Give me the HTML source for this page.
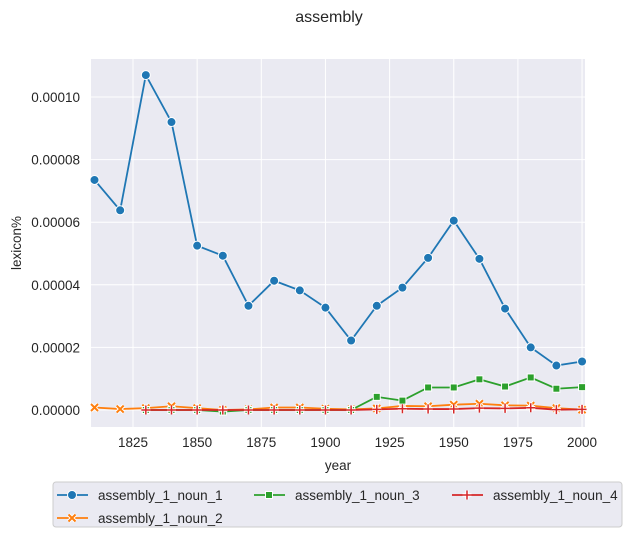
<!DOCTYPE html>
<html><head><meta charset="utf-8"><style>
body{margin:0;background:#fff;font-family:"Liberation Sans","DejaVu Sans",sans-serif;}
</style></head><body>
<svg id="chart" width="631" height="537" xmlns="http://www.w3.org/2000/svg" font-family="Liberation Sans, DejaVu Sans, sans-serif">
<text x="329" y="22" text-anchor="middle" font-size="16" fill="#262626">assembly</text>
<rect x="91" y="59" width="494" height="368" fill="#eaeaf2"/>
<g id="grid"></g><g id="ticks"></g><g id="series"></g>
<text x="338" y="470" text-anchor="middle" font-size="13.5" fill="#262626">year</text>
<text transform="translate(21,243) rotate(-90)" text-anchor="middle" font-size="13.5" fill="#262626">lexicon%</text>
<g>
<rect x="53" y="482" width="569" height="45" rx="3" fill="#eaeaf2" stroke="#cccccc"/>
<g id="legend"></g></g>
</svg>
<script>
const years=[1810,1820,1830,1840,1850,1860,1870,1880,1890,1900,1910,1920,1930,1940,1950,1960,1970,1980,1990,2000];
const noun1=[7.35,6.38,10.7,9.2,5.25,4.93,3.33,4.13,3.82,3.27,2.22,3.33,3.91,4.86,6.05,4.83,3.24,2.0,1.42,1.55];
const noun2=[0.08,0.03,0.06,0.12,0.06,0.0,0.02,0.08,0.08,0.04,0.02,0.05,0.13,0.12,0.17,0.2,0.15,0.14,0.06,0.01];
const noun3=[null,null,0,0,0,-0.05,0,0,0,0,0,0.42,0.3,0.72,0.72,0.98,0.75,1.04,0.68,0.73];
const noun4=[null,null,0,0,0,0,0,0,0,0,0,0.02,0.04,0.03,0.03,0.06,0.05,0.07,0.01,0.02];
const xTicks=[1825,1850,1875,1900,1925,1950,1975,2000];
const yTicks=[0,2,4,6,8,10];
const yTickLabels=["0.00000","0.00002","0.00004","0.00006","0.00008","0.00010"];
const names=["assembly_1_noun_1","assembly_1_noun_2","assembly_1_noun_3","assembly_1_noun_4"];
const NS="http://www.w3.org/2000/svg";
const X=v=>133+(v-1825)*2.566;
const Y=v=>410-v*31.3;
function mk(t,a,p){const e=document.createElementNS(NS,t);for(const k in a)e.setAttribute(k,a[k]);p.appendChild(e);return e;}
const grid=document.getElementById('grid'),ticks=document.getElementById('ticks'),ser=document.getElementById('series'),leg=document.getElementById('legend');
xTicks.forEach(t=>{const l=mk('line',{x1:X(t),x2:X(t),y1:59,y2:427,stroke:'#fff','stroke-width':1},grid);

const s=mk('text',{x:X(t),y:447,'text-anchor':'middle','font-size':13.5,fill:'#262626'},ticks);s.textContent=t;
});
yTicks.forEach((t,i)=>{const l=mk('line',{x1:91,x2:585,y1:Y(t),y2:Y(t),stroke:'#fff','stroke-width':1},grid);

const s=mk('text',{x:80,y:Y(t)+5,'text-anchor':'end','font-size':13.5,fill:'#262626'},ticks);s.textContent=yTickLabels[i];
});
const colors=['#1f77b4','#ff7f0e','#2ca02c','#d62728'];
function marker(k,x,y,p){const c=colors[k];
if(k==0)return mk('circle',{cx:x,cy:y,r:4.5,fill:c,stroke:'#fff','stroke-width':1},p);
if(k==1){const g=mk('g',{},p);const d=`M${x-3.5},${y-3.5}L${x+3.5},${y+3.5}M${x-3.5},${y+3.5}L${x+3.5},${y-3.5}`;mk('path',{d:d,stroke:'#fff','stroke-width':4},g);mk('path',{d:d,stroke:c,'stroke-width':2},g);return g;}
if(k==2)return mk('rect',{x:x-3.5,y:y-3.5,width:7,height:7,fill:c,stroke:'#fff','stroke-width':1},p);
const g=mk('g',{},p);const d=`M${x-4.5},${y}L${x+4.5},${y}M${x},${y-4.5}L${x},${y+4.5}`;mk('path',{d:d,stroke:'#fff','stroke-width':3.5},g);mk('path',{d:d,stroke:c,'stroke-width':1.5},g);return g;}
[noun1,noun2,noun3,noun4].forEach((arr,k)=>{
const g=mk('g',{},ser);
const pts=[];arr.forEach((v,i)=>{if(v!==null)pts.push([X(years[i]),Y(v)]);});
const pl=mk('polyline',{points:pts.map(p=>p.join(',')).join(' '),fill:'none',stroke:colors[k],'stroke-width':1.8},g);

pts.forEach(p=>{const m=marker(k,p[0],p[1],g);});});
const lpos=[[60,495],[60,518],[257,495],[455,495]];
names.forEach((n,k)=>{const [x,y]=lpos[k];const g=mk('g',{},leg);

mk('line',{x1:x-3,x2:x+28,y1:y,y2:y,stroke:colors[k],'stroke-width':1.8},g);
marker(k,x+12,y,g);
const t=mk('text',{x:x+38,y:y+5,'font-size':13.5,fill:'#262626'},g);t.textContent=n;});
</script>
</body></html>
